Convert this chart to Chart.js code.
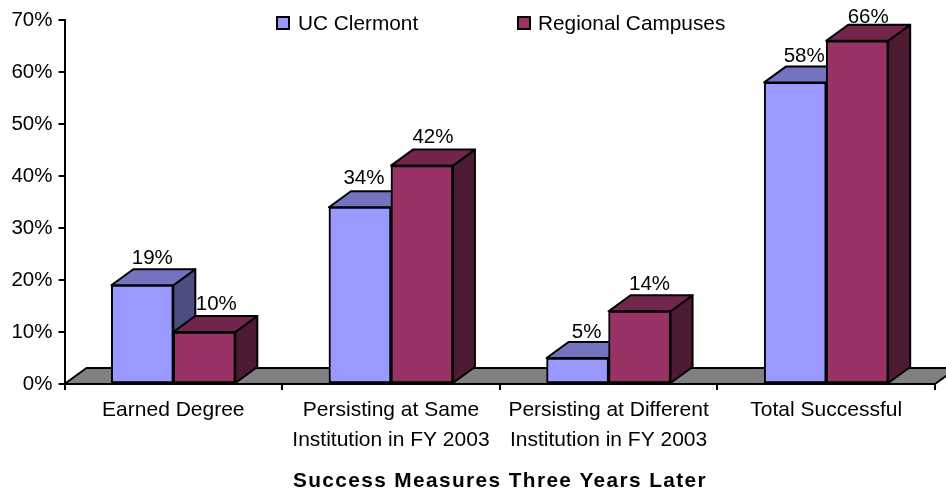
<!DOCTYPE html>
<html>
<head>
<meta charset="utf-8">
<title>Success Measures Three Years Later</title>
<script src="https://cdn.jsdelivr.net/npm/chart.js@4"></script>
<style>
    html, body { margin: 0; padding: 0; background: #fff; }
    canvas { display: block; }
</style>
</head>
<body>
<canvas id="myChart" width="946" height="494"></canvas>
<script>
// chart data
const categories = [
    'Earned Degree',
    ['Persisting at Same', 'Institution in FY 2003'],
    ['Persisting at Different', 'Institution in FY 2003'],
    'Total Successful'
];
const ucClermont = [19, 34, 5, 58];
const regionalCampuses = [10, 42, 14, 66];
const xAxisTitle = 'Success Measures Three Years Later';

const fontName = '"Liberation Sans", Arial, sans-serif';
const depthX = 22;
const depthY = 16;

// value labels sit a little differently on each bar, offset from the bar top
const labelShiftX = [[10, 4, 9, 9], [12, 11, 10, 11]];
const labelShiftY = [[-21, -23, -20, -20], [-22, -23, -21, -18]];

// top and side faces for each colour
const faces = {
    '#9999ff': { top: '#7373bf', side: '#4d4d80' },
    '#993366': { top: '#73264d', side: '#4d1a33' }
};

function poly(ctx, pts, fill) {
    ctx.beginPath();
    pts.forEach((p, i) => i ? ctx.lineTo(p[0], p[1]) : ctx.moveTo(p[0], p[1]));
    ctx.closePath();
    ctx.fillStyle = fill;
    ctx.fill();
    ctx.stroke();
}

// floor, and the top and side of each bar. the library draws the front
const depthPlugin = {
    id: 'depth',
    beforeDatasetsDraw(chart) {
        const ctx = chart.ctx;
        const area = chart.chartArea;
        const y0 = chart.scales.y.getPixelForValue(0);
        ctx.save();
        ctx.strokeStyle = '#000';
        ctx.lineWidth = 2;
        ctx.lineJoin = 'round';
        poly(ctx, [
            [area.left, y0],
            [area.left + depthX, y0 - depthY],
            [area.right + depthX, y0 - depthY],
            [area.right, y0]
        ], '#808080');
        chart.data.datasets.forEach((ds, i) => {
            chart.getDatasetMeta(i).data.forEach(bar => {
                const l = bar.x - bar.width / 2;
                const r = bar.x + bar.width / 2;
                const f = faces[ds.backgroundColor];
                poly(ctx, [[r, bar.y], [r + depthX, bar.y - depthY], [r + depthX, bar.base - depthY], [r, bar.base]], f.side);
                poly(ctx, [[l, bar.y], [l + depthX, bar.y - depthY], [r + depthX, bar.y - depthY], [r, bar.y]], f.top);
            });
        });
        ctx.restore();
    },
    afterDatasetsDraw(chart) {
        const ctx = chart.ctx;
        ctx.save();
        ctx.fillStyle = '#000';
        ctx.font = '20.5px ' + fontName;
        ctx.textAlign = 'center';
        ctx.textBaseline = 'alphabetic';
        chart.data.datasets.forEach((ds, i) => {
            chart.getDatasetMeta(i).data.forEach((bar, j) => {
                ctx.fillText(ds.data[j] + '%', bar.x + labelShiftX[i][j], bar.y + labelShiftY[i][j]);
            });
        });
        // legend
        const boxX = [277, 518];
        const textX = [298, 538];
        ctx.font = '20.8px ' + fontName;
        ctx.textAlign = 'left';
        ctx.textBaseline = 'middle';
        ctx.strokeStyle = '#000';
        ctx.lineWidth = 2;
        chart.data.datasets.forEach((ds, i) => {
            ctx.fillStyle = ds.backgroundColor;
            ctx.fillRect(boxX[i], 17, 12, 12);
            ctx.strokeRect(boxX[i], 17, 12, 12);
            ctx.fillStyle = '#000';
            ctx.fillText(ds.label, textX[i], 24);
        });
        // axis title, spaced out like the original
        ctx.font = 'bold 20.8px ' + fontName;
        ctx.letterSpacing = '1.4px';
        ctx.textAlign = 'center';
        ctx.fillText(xAxisTitle, 500, 481);
        ctx.restore();
    }
};

const ctx = document.getElementById('myChart').getContext('2d');
const myChart = new Chart(ctx, {
    type: 'bar',
    data: {
        labels: categories,
        datasets: [{
            label: 'UC Clermont',
            data: ucClermont,
            backgroundColor: '#9999ff'
        }, {
            label: 'Regional Campuses',
            data: regionalCampuses,
            backgroundColor: '#993366'
        }]
    },
    options: {
        responsive: false,
        animation: false,
        layout: {
            padding: { top: 20, right: 11, left: 0, bottom: 0 }
        },
        datasets: {
            bar: {
                barThickness: 62,
                borderColor: '#000',
                borderWidth: 2,
                borderSkipped: false
            }
        },
        plugins: {
            legend: { display: false },
            tooltip: { enabled: false }
        },
        scales: {
            x: {
                afterFit(scale) { scale.height = 110; },
                grid: { drawOnChartArea: false, tickLength: 6, tickColor: '#000', lineWidth: 2 },
                border: { color: '#000', width: 2 },
                ticks: {
                    color: '#000',
                    padding: 5,
                    maxRotation: 0,
                    autoSkip: false,
                    font: { family: fontName, size: 21, lineHeight: 1.43 }
                }
            },
            y: {
                min: 0,
                max: 70,
                afterFit(scale) { scale.width = 64.5; },
                grid: { drawOnChartArea: false, tickLength: 6, tickColor: '#000', lineWidth: 2 },
                border: { color: '#000', width: 2 },
                ticks: {
                    stepSize: 10,
                    color: '#000',
                    padding: 6,
                    font: { family: fontName, size: 20.5 },
                    callback: value => value + '%'
                }
            }
        }
    },
    plugins: [depthPlugin]
});
</script>
</body>
</html>
